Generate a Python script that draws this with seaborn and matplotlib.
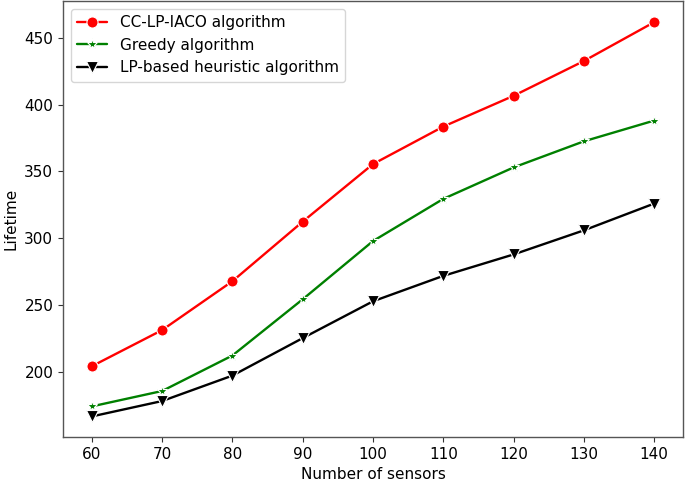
import pandas as pd
import matplotlib
matplotlib.use('Agg')
import matplotlib.pyplot as plt
import seaborn as sns

# 数据
sensors = [60, 70, 80, 90, 100, 110, 120, 130, 140]
cc_lp_iaco = [204.5, 231.5, 268, 312.5, 355.5, 383.5, 406.5, 432.5, 461.5]
greedy = [174.5, 186, 212.5, 254.5, 298, 329.5, 353, 372.5, 388]
lp_heuristic = [167, 178.5, 197.5, 225.5, 253, 272, 288, 306, 326]

algo_names = ['CC-LP-IACO algorithm', 'Greedy algorithm', 'LP-based heuristic algorithm']
colors = ['red', 'green', 'black']
markers = ['o', '*', 'v']

sns.set_theme(style='ticks')
plt.rcParams['font.family'] = ['DejaVu Sans']
plt.rcParams['text.color'] = 'black'
plt.rcParams['axes.labelcolor'] = 'black'

df = pd.DataFrame({
    'sensors': sensors * 3,
    'lifetime': cc_lp_iaco + greedy + lp_heuristic,
    'algo': sum([[n] * len(sensors) for n in algo_names], []),
})

fig = plt.figure(figsize=(6.85, 4.82), dpi=100)
ax = fig.add_axes([0.092, 0.093, 0.905, 0.904])

sns.lineplot(data=df, x='sensors', y='lifetime', hue='algo', style='algo',
             hue_order=algo_names, style_order=algo_names,
             palette=dict(zip(algo_names, colors)),
             markers=dict(zip(algo_names, markers)), dashes=False,
             markersize=8, markeredgewidth=0.8, linewidth=1.7, ax=ax)

ax.set_xticks(sensors)
ax.set_yticks([200, 250, 300, 350, 400, 450])
ax.set_xlim(55.9, 144.1)
ax.set_ylim(151.5, 477)
ax.set_xlabel('Number of sensors', fontsize=11)
ax.set_ylabel('Lifetime', fontsize=11)
ax.tick_params(labelsize=11, length=3.5, width=0.8, color='#333333', labelcolor='black')
for s in ax.spines.values():
    s.set_color('#555555')
    s.set_linewidth(1.0)

ax.legend(loc='upper left', fontsize=11, frameon=True, handlelength=2.0)

fig.savefig('out.png', dpi=100)
